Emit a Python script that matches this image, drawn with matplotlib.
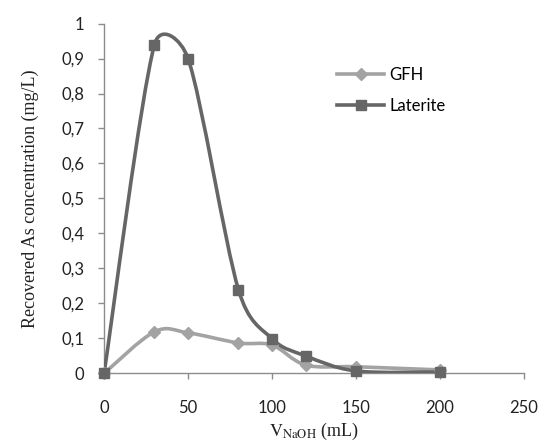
import numpy as np
import matplotlib
matplotlib.use('Agg')
import matplotlib.pyplot as plt
from matplotlib.path import Path
from matplotlib.patches import PathPatch
from matplotlib.lines import Line2D

plt.rcParams['mathtext.fontset'] = 'stix'

# data
v_naoh = [0, 30, 50, 80, 100, 120, 150, 200]
gfh = [0, 0.119, 0.116, 0.087, 0.081, 0.024, 0.019, 0.010]
laterite = [0, 0.94, 0.90, 0.239, 0.099, 0.050, 0.007, 0.004]

x_ticks = [0, 50, 100, 150, 200, 250]
y_ticks = [0, 0.1, 0.2, 0.3, 0.4, 0.5, 0.6, 0.7, 0.8, 0.9, 1.0]
y_tick_labels = ['0', '0,1', '0,2', '0,3', '0,4', '0,5', '0,6', '0,7', '0,8', '0,9', '1']

c_gfh = '#a3a3a3'
c_lat = '#666666'
axis_grey = '#8c8c8c'
tick_font = 'Lato'

fig = plt.figure(figsize=(5.42, 4.44), dpi=100)
ax = fig.add_axes([0.192, 0.159, 0.775, 0.788])
ax.set_xlim(0, 250)
ax.set_ylim(0, 1)


def smooth_path(ax, xs, ys, k=1/6, cap=0.6):
    """Excel-like smoothed line: Catmull-Rom Bezier in screen space,
    handle length capped relative to the segment length"""
    pts = ax.transData.transform(np.column_stack([xs, ys]))
    n = len(pts)
    tang = []
    for i in range(n):
        a = pts[max(i - 1, 0)]
        b = pts[min(i + 1, n - 1)]
        tang.append((b - a) * k)
    verts = [pts[0]]
    codes = [Path.MOVETO]
    for i in range(n - 1):
        p1, p2 = pts[i], pts[i + 1]
        d = np.hypot(*(p2 - p1))
        t1, t2 = tang[i], tang[i + 1]
        l1, l2 = np.hypot(*t1), np.hypot(*t2)
        if l1 > cap * d:
            t1 = t1 * cap * d / l1
        if l2 > cap * d:
            t2 = t2 * cap * d / l2
        verts += [p1 + t1, p2 - t2, p2]
        codes += [Path.CURVE4] * 3
    inv = ax.transData.inverted()
    return Path(inv.transform(np.array(verts)), codes)


for ys, col, mk, ms in [(gfh, c_gfh, 'D', 6), (laterite, c_lat, 's', 6.5)]:
    patch = PathPatch(smooth_path(ax, v_naoh, ys), facecolor='none',
                      edgecolor=col, lw=2.6, capstyle='round', joinstyle='round',
                      zorder=3)
    ax.add_patch(patch)
    ax.plot(v_naoh, ys, linestyle='none', marker=mk, ms=ms, color=col,
            mec=col, zorder=4, clip_on=False)

# axes styling
for s in ['top', 'right']:
    ax.spines[s].set_visible(False)
for s in ['left', 'bottom']:
    ax.spines[s].set_color(axis_grey)
    ax.spines[s].set_linewidth(1.0)

ax.set_xticks(x_ticks)
ax.set_xticklabels([str(t) for t in x_ticks], fontfamily=tick_font, fontsize=12)
ax.set_yticks(y_ticks)
ax.set_yticklabels(y_tick_labels, fontfamily=tick_font, fontsize=12)
ax.tick_params(axis='x', direction='out', length=4, width=1, color=axis_grey,
               pad=15, labelcolor='#222222')
ax.tick_params(axis='y', direction='out', length=4, width=1, color=axis_grey,
               pad=10, labelcolor='#222222')

ax.set_xlabel(r'$\mathrm{V_{NaOH}}$ (mL)', fontfamily='Liberation Serif',
              fontsize=13, color='#222222', labelpad=4)
ax.set_ylabel('Recovered As concentration (mg/L)', fontfamily='Liberation Serif',
              fontsize=13, color='#222222', labelpad=16)

handles = [
    Line2D([], [], color=c_gfh, lw=2.6, marker='D', ms=6),
    Line2D([], [], color=c_lat, lw=2.6, marker='s', ms=6.5),
]
ax.legend(handles, ['GFH', 'Laterite'], loc='upper left',
          bbox_to_anchor=(0.52, 0.92), frameon=False,
          prop={'family': tick_font, 'size': 12}, handlelength=2.8,
          handletextpad=0.3, labelspacing=0.9)

fig.savefig('out.png', dpi=100)
